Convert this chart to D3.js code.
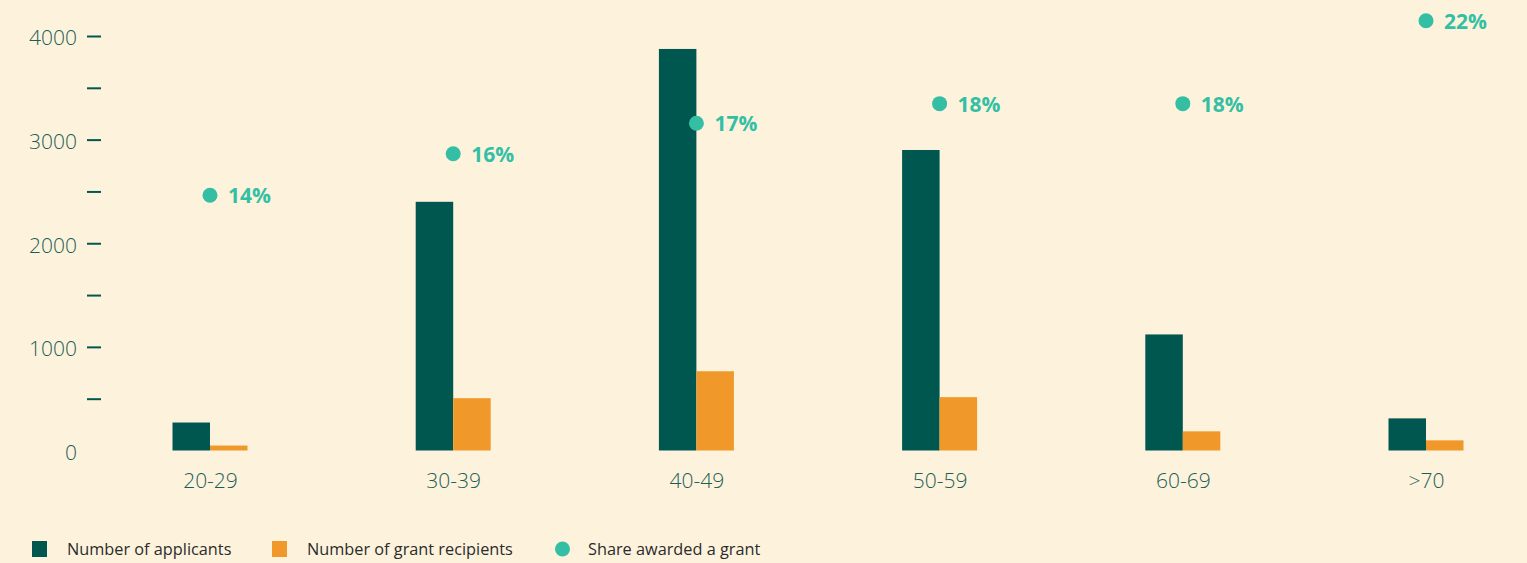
<!DOCTYPE html>
<html>
<head>
<meta charset="utf-8">
<script src="https://cdn.jsdelivr.net/npm/d3@7"></script>
<style>
  body { margin: 0; background: #fdf3dd; }
  svg { display: block; font-family: "Open Sans", "Noto Sans", sans-serif; }
</style>
</head>
<body>
<svg id="chart"></svg>
<script>
const categories = ["20-29", "30-39", "40-49", "50-59", "60-69", ">70"];
const applicants = [270, 2400, 3875, 2900, 1120, 310];
const recipients = [48, 505, 765, 515, 185, 98];
const share = [14.0, 15.9, 17.3, 18.2, 18.2, 22.0];
const yTicks = [0, 500, 1000, 1500, 2000, 2500, 3000, 3500, 4000];
const legendItems = ["Number of applicants", "Number of grant recipients", "Share awarded a grant"];

const width = 1527, height = 563;
const darkTeal = "#00574f", orange = "#f0992a", mint = "#34bfa5", axisText = "#1b5e56";

const svg = d3.select("#chart")
    .attr("width", width)
    .attr("height", height);

svg.append("rect")
    .attr("width", width)
    .attr("height", height)
    .attr("fill", "#fdf3dd");

// scales
const xScale = d3.scalePoint().domain(categories).range([210, 1426]);
const subScale = d3.scaleBand().domain(["applicants", "recipients"]).range([-37.5, 37.5]);
const yScale = d3.scaleLinear().domain([0, 4000]).range([450.5, 36]);
const shareScale = d3.scaleLinear().domain([2.3, 21.3]).range([450.5, 36]);

// y axis
const yAxis = svg.append("g")
    .attr("class", "y-axis")
    .attr("transform", "translate(101,0)")
    .call(d3.axisLeft(yScale)
        .tickValues(yTicks)
        .tickSize(14)
        .tickPadding(10)
        .tickFormat(function (d) { return d % 1000 === 0 ? d : ""; }));

yAxis.select(".domain").remove();
yAxis.selectAll(".tick line")
    .attr("stroke", darkTeal)
    .attr("stroke-width", 2)
    .attr("display", function (d) { return d === 0 ? "none" : null; });
yAxis.selectAll(".tick text")
    .attr("fill", axisText)
    .attr("font-size", 21)
    .attr("font-weight", 300)
    .attr("dy", "0.42em")
    .attr("font-family", "'Open Sans', sans-serif");

// x axis labels
const xAxis = svg.append("g")
    .attr("class", "x-axis")
    .attr("transform", "translate(0,469)")
    .call(d3.axisBottom(xScale).tickSize(0).tickPadding(0));

xAxis.select(".domain").remove();
xAxis.selectAll(".tick text")
    .attr("fill", axisText)
    .attr("font-size", 21)
    .attr("font-weight", 300)
    .attr("dy", "0.9em")
    .attr("font-family", "'Open Sans', sans-serif");

// bars
const rows = categories.map(function (c, i) {
    return {category: c, applicants: applicants[i], recipients: recipients[i], share: share[i]};
});

const groups = svg.selectAll(".group")
    .data(rows)
    .enter().append("g")
    .attr("class", "group")
    .attr("transform", function (d) { return "translate(" + xScale(d.category) + ",0)"; });

groups.selectAll("rect")
    .data(function (d) {
        return [{key: "applicants", value: d.applicants}, {key: "recipients", value: d.recipients}];
    })
    .enter().append("rect")
    .attr("x", function (d) { return subScale(d.key); })
    .attr("width", subScale.bandwidth())
    .attr("y", function (d) { return yScale(d.value); })
    .attr("height", function (d) { return yScale(0) - yScale(d.value); })
    .attr("fill", function (d) { return d.key === "applicants" ? darkTeal : orange; });

// share dots
groups.append("circle")
    .attr("cx", 0)
    .attr("cy", function (d) { return shareScale(d.share); })
    .attr("r", 7.5)
    .attr("fill", mint);

groups.append("text")
    .attr("x", 18)
    .attr("y", function (d) { return shareScale(d.share); })
    .attr("dy", "0.38em")
    .attr("fill", mint)
    .attr("font-size", 21)
    .attr("font-weight", 700)
    .text(function (d) { return Math.round(d.share) + "%"; });

// legend
const legendX = [32, 272, 555];
const legend = svg.selectAll(".legend")
    .data(legendItems)
    .enter().append("g")
    .attr("class", "legend")
    .attr("transform", function (d, i) { return "translate(" + legendX[i] + ",549)"; });

legend.each(function (d, i) {
    const g = d3.select(this);
    if (i < 2) {
        g.append("rect")
            .attr("x", 0).attr("y", -8)
            .attr("width", 15).attr("height", 16)
            .attr("fill", i === 0 ? darkTeal : orange);
    } else {
        g.append("circle")
            .attr("cx", 7.5).attr("cy", 0).attr("r", 7.5)
            .attr("fill", mint);
    }
    g.append("text")
        .attr("x", i === 2 ? 33 : 35)
        .attr("dy", "0.36em")
        .attr("fill", "#2b2b2b")
        .attr("font-size", 16.3)
        .text(d);
});
</script>
</body>
</html>
